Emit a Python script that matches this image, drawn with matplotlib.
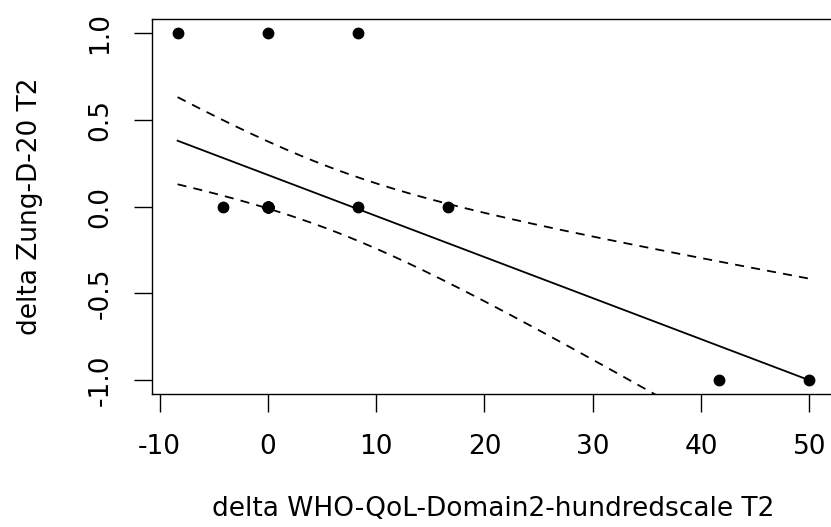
import numpy as np
import matplotlib
matplotlib.use('Agg')
import matplotlib.pyplot as plt

# change scores, one entry per subject (many subjects sit at 0,0)
who_qol = [-8.333, 0.0, 8.333,
           -4.167, 8.333, 16.667,
           41.667, 50.0] + [0.0] * 12
zung = [1, 1, 1,
        0, 0, 0,
        -1, -1] + [0] * 12

x_ticks = [-10, 0, 10, 20, 30, 40, 50]
y_ticks = [-1.0, -0.5, 0.0, 0.5, 1.0]

x = np.array(who_qol)
y = np.array(zung, dtype=float)

# least squares fit with 95% confidence band for the mean
n = len(x)
b, a = np.polyfit(x, y, 1)
resid = y - (a + b * x)
s = np.sqrt(np.sum(resid ** 2) / (n - 2))
sxx = np.sum((x - x.mean()) ** 2)
t_crit = 2.100922  # t(0.975, df=18)
xs = np.linspace(x.min(), x.max(), 200)
fit = a + b * xs
half = t_crit * s * np.sqrt(1.0 / n + (xs - x.mean()) ** 2 / sxx)

plt.rcParams['font.family'] = ['DejaVu Sans']
fs = 19
fig = plt.figure(figsize=(8.31, 5.27), dpi=100)
ax = fig.add_axes([0.1833, 0.2526, 0.8211, 0.7104])

ax.plot(xs, fit, color='black', linewidth=1.3)
ax.plot(xs, fit + half, color='black', linewidth=1.3, linestyle=(0, (5, 4)))
ax.plot(xs, fit - half, color='black', linewidth=1.3, linestyle=(0, (5, 4)))
ax.plot(x, y, 'o', color='black', markersize=7.5)

pad_x = 0.04 * (x.max() - x.min())
pad_y = 0.04 * (y.max() - y.min())
ax.set_xlim(x.min() - pad_x, x.max() + pad_x)
ax.set_ylim(y.min() - pad_y, y.max() + pad_y)

ax.set_xticks(x_ticks)
ax.set_xticklabels([str(t) for t in x_ticks])
ax.set_yticks(y_ticks)
ax.set_yticklabels(['%.1f' % t for t in y_ticks], rotation=90, va='center')
ax.tick_params(direction='out', length=13, width=1, labelsize=fs)
ax.tick_params(axis='x', pad=16)
ax.tick_params(axis='y', pad=15)
for sp in ax.spines.values():
    sp.set_linewidth(1)
ax.spines['right'].set_visible(False)

ax.set_xlabel('delta WHO-QoL-Domain2-hundredscale T2', fontsize=fs, labelpad=26)
ax.set_ylabel('delta Zung-D-20 T2', fontsize=fs, labelpad=32)

fig.savefig('out.png', dpi=100)
